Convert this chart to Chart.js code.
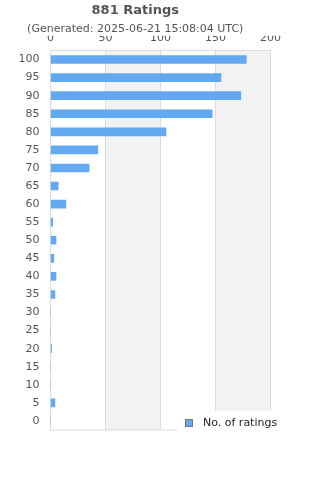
<!DOCTYPE html>
<html>
<head>
<meta charset="utf-8">
<script src="https://cdn.jsdelivr.net/npm/chart.js@4/dist/chart.umd.min.js"></script>
<style>
  html, body { margin: 0; padding: 0; background: #fff; }
  #wrap { width: 320px; height: 480px; position: relative; }
</style>
</head>
<body>
<div id="wrap"><canvas id="c"></canvas></div>
<script>
// ---- data ----
const TITLE = '881 Ratings';
const SUBTITLE = '(Generated: 2025-06-21 15:08:04 UTC)';
const SERIES_NAME = 'No. of ratings';
const CATEGORIES = ['100','95','90','85','80','75','70','65','60','55','50','45','40','35','30','25','20','15','10','5','0'];
const RATING_COUNTS = [178,155,173,147,105,43,35,7,14,2,5,3,5,4,0,0,1,0,0,4,0];
const X_TICKS = [0, 50, 100, 150, 200];

// ---- styles ----
const BAR_COLOR = '#62a9f2';
const GRID_COLOR = '#dcdcdc';
const BAND_COLOR = '#f2f2f2';
const TEXT_COLOR = '#555';
const FONT = 'DejaVu Sans';

Chart.defaults.font.family = FONT;
Chart.defaults.color = TEXT_COLOR;

// legend swatch image
const sw = document.createElement('canvas');
sw.width = 8; sw.height = 8;
(function () {
  const g = sw.getContext('2d');
  g.fillStyle = BAR_COLOR;
  g.fillRect(0, 0, 8, 8);
  g.strokeStyle = '#777';
  g.lineWidth = 1;
  g.strokeRect(0.5, 0.5, 7, 7);
})();

const chartPlugin = {
  id: 'bandsAndLegend',
  afterLayout(chart) {
    const lg = chart.legend;
    if (!lg) return;
    const h = lg.height, w = lg.width;
    lg.left = 170.5; lg.right = lg.left + w;
    lg.top = 407.5; lg.bottom = lg.top + h;
  },
  beforeDraw(chart) {
    const { ctx, chartArea: a, scales: { x } } = chart;
    ctx.save();
    ctx.fillStyle = BAND_COLOR;
    for (let i = 0; i < X_TICKS.length - 1; i++) {
      if (i % 2 === 1) {
        const l = x.getPixelForValue(X_TICKS[i]);
        const r = x.getPixelForValue(X_TICKS[i + 1]);
        ctx.fillRect(l, a.top, r - l, a.bottom - a.top);
      }
    }
    ctx.strokeStyle = GRID_COLOR;
    ctx.lineWidth = 1;
    ctx.strokeRect(a.left, a.top, a.right - a.left, a.bottom - a.top);
    ctx.restore();
  },
  afterDraw(chart) {
    const ctx = chart.ctx;
    ctx.save();
    ctx.fillStyle = '#fff';
    ctx.fillRect(177.5, 410.5, 150, 26);
    ctx.restore();
    if (chart.legend) chart.legend.draw();
  }
};

new Chart(document.getElementById('c'), {
  type: 'bar',
  data: {
    labels: CATEGORIES,
    datasets: [{
      label: SERIES_NAME,
      data: RATING_COUNTS,
      backgroundColor: BAR_COLOR,
      borderWidth: 0,
      barThickness: 8
    }]
  },
  plugins: [chartPlugin],
  options: {
    indexAxis: 'y',
    responsive: true,
    maintainAspectRatio: false,
    animation: false,
    layout: { padding: { left: 0, right: 49.5, top: 0, bottom: 19 } },
    plugins: {
      title: {
        display: true,
        text: TITLE,
        color: TEXT_COLOR,
        font: { size: 13, weight: 'bold' },
        padding: { top: 3, bottom: 0 }
      },
      subtitle: {
        display: true,
        text: SUBTITLE,
        color: TEXT_COLOR,
        font: { size: 11 },
        padding: { top: 4, bottom: 0 }
      },
      legend: {
        display: true,
        position: 'bottom',
        align: 'start',
        labels: {
          usePointStyle: true,
          pointStyle: sw,
          pointStyleWidth: 17,
          boxHeight: 8,
          color: '#222',
          font: { size: 11 },
          padding: 10
        }
      },
      tooltip: { enabled: false }
    },
    scales: {
      x: {
        position: 'top',
        min: 0,
        max: 200,
        afterBuildTicks(scale) { scale.ticks = X_TICKS.map(v => ({ value: v })); },
        afterFit(scale) { scale.height = 14.7; },
        ticks: { color: TEXT_COLOR, font: { size: 11 }, padding: 6, maxRotation: 0 },
        grid: { color: GRID_COLOR, drawTicks: false },
        border: { color: GRID_COLOR }
      },
      y: {
        afterFit(scale) { scale.width = 50.5; },
        ticks: { color: TEXT_COLOR, font: { size: 11 }, padding: 11, autoSkip: false },
        grid: { display: false, drawTicks: false },
        border: { display: true, color: GRID_COLOR }
      }
    }
  }
});
</script>
</body>
</html>
